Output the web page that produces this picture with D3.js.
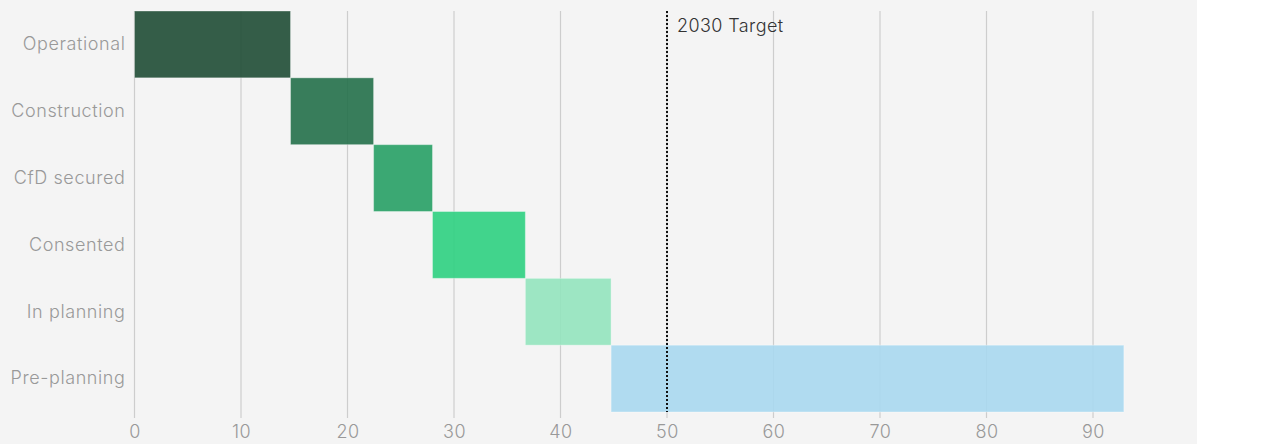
<!DOCTYPE html>
<html><head><meta charset="utf-8">
<script src="https://cdn.jsdelivr.net/npm/d3@7"></script>
<style>html,body{margin:0;padding:0;background:#fff;}svg{display:block;font-family:Inter,"Open Sans",sans-serif;}</style>
</head><body>
<svg id="c" width="1287" height="444"></svg>
<script>
const categories = ["Operational","Construction","CfD secured","Consented","In planning","Pre-planning"];
const starts = [0, 14.65, 22.45, 27.98, 36.7, 44.75];
const ends = [14.65, 22.45, 27.98, 36.7, 44.75, 92.9];
const colors = ["#1f4d35","#24704a","#27a065","#2dd081","#93e4be","#a9d8ef"];
const tickValues = [0,10,20,30,40,50,60,70,80,90];
const targetValue = 50;
const targetLabel = "2030 Target";

const FONT = "Inter, 'Open Sans', sans-serif";
const svg = d3.select("#c");
svg.append("rect").attr("x",0).attr("y",0).attr("width",1197).attr("height",444).attr("fill","#f4f4f4");

const x = d3.scaleLinear().domain([0,100]).range([134.5,1199.5]);
const y = d3.scaleBand().domain(categories).range([11,412]).padding(0);

// grid
svg.append("g").selectAll("line").data(tickValues).join("line")
  .attr("x1",d=>x(d)).attr("x2",d=>x(d)).attr("y1",11).attr("y2",418)
  .attr("stroke","#cdcdcd").attr("stroke-width",1.2);

// bars
svg.append("g").selectAll("rect").data(categories).join("rect")
  .attr("x",(d,i)=>x(starts[i])).attr("y",d=>y(d))
  .attr("width",(d,i)=>x(ends[i])-x(starts[i])).attr("height",y.bandwidth())
  .attr("fill",(d,i)=>colors[i]).attr("fill-opacity",0.9)
  .attr("stroke","#ffffff").attr("stroke-opacity",0.35).attr("stroke-width",1);

// x axis
const xAxis = d3.axisBottom(x).tickValues(tickValues).tickSize(0).tickPadding(13);
const gx = svg.append("g").attr("transform","translate(0,412)").call(xAxis);
gx.select(".domain").remove();
gx.selectAll("text").attr("fill","#999").attr("font-size",18).attr("font-weight",300)
  .attr("letter-spacing",0.5).attr("font-family",FONT);

// y axis
const yAxis = d3.axisLeft(y).tickSize(0).tickPadding(9);
const gy = svg.append("g").attr("transform","translate(134.5,0)").call(yAxis);
gy.select(".domain").remove();
gy.selectAll("text").attr("fill","#999").attr("font-size",18).attr("font-weight",300)
  .attr("letter-spacing",0.6).attr("font-family",FONT);

// target
svg.append("line").attr("x1",x(targetValue)).attr("x2",x(targetValue)).attr("y1",11).attr("y2",412)
  .attr("stroke","#111").attr("stroke-width",2).attr("stroke-dasharray","2,2");
svg.append("text").attr("x",x(targetValue)+10).attr("y",32).text(targetLabel)
  .attr("fill","#333").attr("font-size",18).attr("font-weight",300)
  .attr("letter-spacing",0.4).attr("font-family",FONT);
</script>
</body></html>
